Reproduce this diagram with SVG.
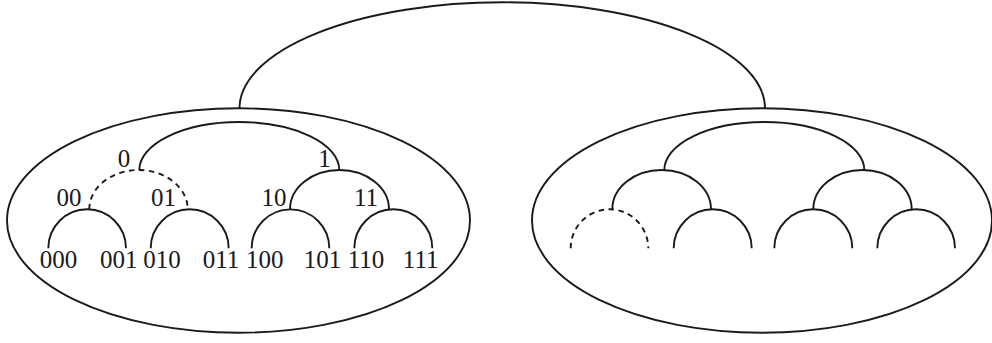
<svg xmlns="http://www.w3.org/2000/svg" width="992" height="343" viewBox="0 0 992 343">
<style>
.ln{fill:none;stroke:#1a1a1a;stroke-width:1.9}
.ds{fill:none;stroke:#1a1a1a;stroke-width:1.9;stroke-dasharray:5.5 4.5}
.lb{font-family:"Liberation Serif","DejaVu Serif",serif;font-size:25px;fill:#1a1a1a;text-anchor:middle}
</style>
<rect width="992" height="343" fill="#ffffff"/>
<g id="left-cluster">
<ellipse class="ln" cx="238.5" cy="220.5" rx="231.5" ry="112.2"/>
</g>
<g id="right-cluster">
<ellipse class="ln" cx="762" cy="220.5" rx="230" ry="112.2"/>
</g>
<g id="connectors">
<path class="ln" d="M239.5,108.3 A262.75,106 0 0 1 765,108.3"/>
<path class="ln" d="M139.3,170 A100,48 0 0 1 339.3,170"/>
<path class="ds" d="M89.3,209.3 A49.2,39.3 0 0 1 187.7,209.3"/>
<path class="ln" d="M290,209.3 A49.5,39.3 0 0 1 389,209.3"/>
<path class="ln" d="M48.3,248.3 A38.85,39 0 0 1 126,248.3"/>
<path class="ln" d="M150.7,248.3 A39,39 0 0 1 228.7,248.3"/>
<path class="ln" d="M251.7,248.3 A38.8,39 0 0 1 329.3,248.3"/>
<path class="ln" d="M354.3,248.3 A39,39 0 0 1 432.3,248.3"/>
<path class="ln" d="M664.3,170 A100,48 0 0 1 864.3,170"/>
<path class="ln" d="M612.3,209.3 A49.35,39.3 0 0 1 711,209.3"/>
<path class="ln" d="M813.3,209.3 A49.2,39.3 0 0 1 911.7,209.3"/>
<path class="ds" d="M570.7,248.3 A38.8,39 0 0 1 648.3,248.3"/>
<path class="ln" d="M673.7,248.3 A39,39 0 0 1 751.7,248.3"/>
<path class="ln" d="M774.3,248.3 A39,39 0 0 1 852.3,248.3"/>
<path class="ln" d="M877.3,248.3 A38.85,39 0 0 1 955,248.3"/>
</g>
<g id="labels">
<text class="lb" x="124" y="167">0</text>
<text class="lb" x="324.5" y="167">1</text>
<text class="lb" x="69" y="206">00</text>
<text class="lb" x="163.5" y="206">01</text>
<text class="lb" x="274" y="205.5">10</text>
<text class="lb" x="366" y="205.5">11</text>
<text class="lb" x="58.5" y="267.5">000</text>
<text class="lb" x="118.7" y="268">001</text>
<text class="lb" x="162" y="268">010</text>
<text class="lb" x="221" y="268">011</text>
<text class="lb" x="264.7" y="268">100</text>
<text class="lb" x="322.5" y="268">101</text>
<text class="lb" x="366" y="268">110</text>
<text class="lb" x="420.7" y="268">111</text>
</g>
</svg>
